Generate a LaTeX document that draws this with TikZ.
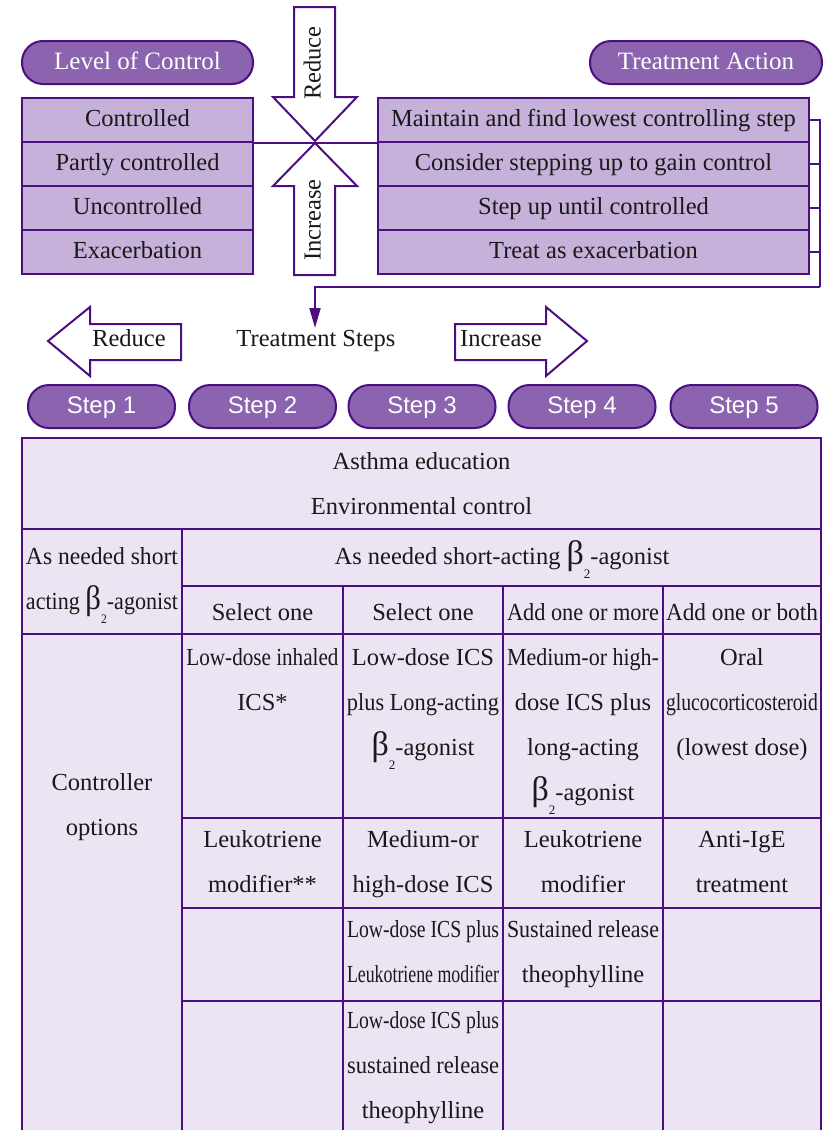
\documentclass[tikz,border=0pt]{standalone}
\usepackage{fontspec}
\setmainfont{Liberation Serif}
\newfontfamily\stepfont{Liberation Sans}
\usetikzlibrary{arrows.meta}
\definecolor{dp}{RGB}{75,15,130}
\definecolor{mp}{RGB}{139,99,175}
\definecolor{lp}{RGB}{197,177,217}
\definecolor{tp}{RGB}{236,228,242}
\definecolor{ink}{RGB}{25,25,25}
\newsavebox\fitbx
\newcommand\fitto[2]{\sbox\fitbx{#2}\ifdim\wd\fitbx>#1\relax\resizebox{#1}{\height}{\usebox\fitbx}\else\usebox\fitbx\fi}
\newcommand\tabln[1]{\strut\fitto{152pt}{#1}}
\newcommand\bt{{\fontsize{34}{34}\selectfont β}\raisebox{-14pt}{\fontsize{13}{13}\selectfont 2}}
\begin{document}
\begin{tikzpicture}[x=1pt,y=-1pt,
  pill/.style={draw=dp, fill=mp, line width=2pt, rounded corners=21pt, minimum height=43pt, text=white, inner sep=0pt, text height=17pt, text depth=3pt, font=\fontsize{25}{30}\selectfont},
  steppill/.style={pill, minimum width=147pt, font=\stepfont\fontsize{24}{30}\selectfont},
  lbox/.style={draw=dp, fill=lp, line width=2pt, minimum height=44pt, inner sep=0pt, text=ink, text height=17pt, text depth=4pt, font=\fontsize{24.5}{30}\selectfont},
  cell/.style={anchor=north, inner sep=0pt, align=center, text=ink, font=\fontsize{24.5}{45}\selectfont},
  line/.style={draw=dp, line width=2pt},
  harrow/.style={draw=dp, fill=white, line width=2pt, line join=miter},
  plain/.style={inner sep=0pt, text=ink, text height=16pt, text depth=5pt, font=\fontsize{24.5}{30}\selectfont}]
\useasboundingbox (0,0) rectangle (827,1130);
\clip (0,0) rectangle (827,1130);
% headers
\node[pill, minimum width=231pt] (loc) at (137.5,62.5) {Level of Control};
\node[pill, minimum width=232pt] (ta) at (706,62.5) {Treatment Action};
% level boxes
\node[lbox, minimum width=231pt] (L1) at (137.5,120) {Controlled};
\node[lbox, minimum width=231pt] (L2) at (137.5,164) {Partly controlled};
\node[lbox, minimum width=231pt] (L3) at (137.5,208) {Uncontrolled};
\node[lbox, minimum width=231pt] (L4) at (137.5,252) {Exacerbation};
% action boxes
\node[lbox, minimum width=431pt] (R1) at (593.5,120) {Maintain and find lowest controlling step};
\node[lbox, minimum width=431pt] (R2) at (593.5,164) {Consider stepping up to gain control};
\node[lbox, minimum width=431pt] (R3) at (593.5,208) {Step up until controlled};
\node[lbox, minimum width=431pt] (R4) at (593.5,252) {Treat as exacerbation};
\draw[line] (L1.south east) -- (R1.south west);
% reduce / increase vertical arrows
\draw[harrow] (294,7) -- (335,7) -- (335,97) -- (357,97) -- (315,141) -- (273,97) -- (294,97) -- cycle;
\node[plain, rotate=90] (vred) at (315,63) {Reduce};
\draw[harrow] (294,275) -- (335,275) -- (335,186) -- (357,186) -- (315,143) -- (273,186) -- (294,186) -- cycle;
\node[plain, rotate=90] (vinc) at (315,220) {Increase};
% bracket
\coordinate (brk) at (820,287);
\coordinate (drop) at (315,287);
\coordinate (tgt) at (315,328);
\draw[line] (R1.east) -- (R1.east -| brk) -- (brk);
\draw[line] (R2.east) -- (R2.east -| brk);
\draw[line] (R3.east) -- (R3.east -| brk);
\draw[line] (R4.east) -- (R4.east -| brk);
\draw[line, -{Triangle[length=20pt,width=11pt]}] (brk) -- (drop) -- (tgt);
% treatment steps
\draw[harrow] (48,341) -- (90,307) -- (90,324) -- (181,324) -- (181,360) -- (90,360) -- (90,376) -- cycle;
\node[plain] (hred) at (129,341) {Reduce};
\node[plain] (ts) at (316,341) {Treatment Steps};
\draw[harrow] (455,324) -- (546,324) -- (546,307) -- (587,341) -- (546,376) -- (546,360) -- (455,360) -- cycle;
\node[plain] (hinc) at (501,341) {Increase};
\node[steppill] (s1) at (101.5,406.5) {Step 1};
\node[steppill] (s2) at (262.5,406.5) {Step 2};
\node[steppill] (s3) at (422,406.5) {Step 3};
\node[steppill] (s4) at (582,406.5) {Step 4};
\node[steppill] (s5) at (744,406.5) {Step 5};
% table
\fill[tp] (22,438) rectangle (821,1140);
\draw[line] (22,1140) -- (22,438) -- (821,438) -- (821,1140);
\draw[line] (22,529) -- (821,529);
\draw[line] (182,529) -- (182,1140);
\draw[line] (182,586) -- (821,586);
\draw[line] (22,634) -- (821,634);
\draw[line] (343,586) -- (343,1140);
\draw[line] (503,586) -- (503,1140);
\draw[line] (663,586) -- (663,1140);
\draw[line] (182,818) -- (821,818);
\draw[line] (182,908) -- (821,908);
\draw[line] (182,1001) -- (821,1001);
\node[cell] (edu) at (421.5,438) {\strut Asthma education\\\strut Environmental control};
\node[cell] (rel1) at (102,533) {\tabln{As needed short}\\\tabln{acting \bt-agonist}};
\node[cell] (rel2) at (502,533) {\strut As needed short-acting \bt-agonist};
\node[cell] (sel2) at (262.5,589) {\tabln{Select one}};
\node[cell] (sel3) at (423,589) {\tabln{Select one}};
\node[cell] (sel4) at (583,589) {\tabln{Add one or more}};
\node[cell] (sel5) at (742,589) {\tabln{Add one or both}};
\node[cell] (ctl) at (102,759) {\tabln{Controller}\\\tabln{options}};
\node[cell] (a2) at (262.5,634) {\tabln{Low-dose inhaled}\\\tabln{ICS*}};
\node[cell] (a3) at (423,634) {\tabln{Low-dose ICS}\\\tabln{plus Long-acting}\\\tabln{\bt-agonist}};
\node[cell] (a4) at (583,634) {\tabln{Medium-or high-}\\\tabln{dose ICS plus}\\\tabln{long-acting}\\\tabln{\bt-agonist}};
\node[cell] (a5) at (742,634) {\tabln{Oral}\\\tabln{glucocorticosteroid}\\\tabln{(lowest dose)}};
\node[cell] (b2) at (262.5,816) {\tabln{Leukotriene}\\\tabln{modifier**}};
\node[cell] (b3) at (423,816) {\tabln{Medium-or}\\\tabln{high-dose ICS}};
\node[cell] (b4) at (583,816) {\tabln{Leukotriene}\\\tabln{modifier}};
\node[cell] (b5) at (742,816) {\tabln{Anti-IgE}\\\tabln{treatment}};
\node[cell] (c3) at (423,906) {\tabln{Low-dose ICS plus}\\\tabln{Leukotriene modifier}};
\node[cell] (c4) at (583,906) {\tabln{Sustained release}\\\tabln{theophylline}};
\node[cell] (d3) at (423,997) {\tabln{Low-dose ICS plus}\\\tabln{sustained release}\\\tabln{theophylline}};
\end{tikzpicture}
\end{document}
